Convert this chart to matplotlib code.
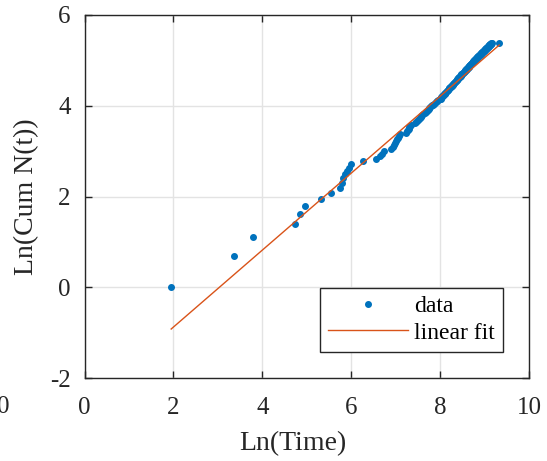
import numpy as np
import matplotlib
matplotlib.use("Agg")
import matplotlib.pyplot as plt

plt.rcParams['font.family'] = ['Liberation Serif', 'DejaVu Serif']
plt.rcParams['mathtext.fontset'] = 'stix'

# Ln(Time) of each event, in order
ln_time = [
    1.95, 3.36, 3.79, 4.74, 4.85, 4.96, 5.32, 5.55, 5.75, 5.79,
    5.82, 5.86, 5.90, 5.94, 5.99, 6.26, 6.56, 6.65, 6.70, 6.74,
    6.90, 6.93, 6.96, 6.98, 7.00, 7.03, 7.05, 7.07, 7.10, 7.23,
    7.25, 7.27, 7.29, 7.31, 7.33, 7.35, 7.44, 7.46, 7.48, 7.50,
    7.52, 7.54, 7.56, 7.58, 7.60, 7.62, 7.66, 7.68, 7.70, 7.72,
    7.74, 7.76, 7.78, 7.80, 7.82, 7.84, 7.86, 7.88, 7.90, 7.92,
    7.94, 7.96, 7.99, 8.01, 8.02, 8.03, 8.05, 8.06, 8.07, 8.09,
    8.10, 8.11, 8.12, 8.14, 8.15, 8.16, 8.17, 8.18, 8.19, 8.20,
    8.21, 8.23, 8.24, 8.25, 8.26, 8.27, 8.28, 8.29, 8.30, 8.31,
    8.32, 8.33, 8.34, 8.35, 8.36, 8.37, 8.38, 8.39, 8.40, 8.40,
    8.41, 8.42, 8.43, 8.44, 8.45, 8.46, 8.47, 8.48, 8.48, 8.49,
    8.50, 8.51, 8.52, 8.53, 8.54, 8.54, 8.55, 8.56, 8.57, 8.58,
    8.58, 8.59, 8.60, 8.61, 8.61, 8.62, 8.63, 8.64, 8.64, 8.65,
    8.66, 8.66, 8.67, 8.68, 8.68, 8.69, 8.70, 8.70, 8.71, 8.72,
    8.72, 8.73, 8.74, 8.74, 8.75, 8.76, 8.76, 8.77, 8.77, 8.78,
    8.79, 8.79, 8.80, 8.80, 8.81, 8.82, 8.82, 8.83, 8.84, 8.84,
    8.85, 8.86, 8.86, 8.87, 8.88, 8.88, 8.89, 8.89, 8.90, 8.91,
    8.91, 8.92, 8.92, 8.93, 8.94, 8.94, 8.95, 8.95, 8.96, 8.97,
    8.97, 8.98, 8.98, 8.99, 8.99, 9.00, 9.00, 9.01, 9.02, 9.02,
    9.03, 9.03, 9.04, 9.04, 9.05, 9.05, 9.06, 9.06, 9.07, 9.07,
    9.08, 9.08, 9.09, 9.09, 9.10, 9.10, 9.11, 9.11, 9.12, 9.12,
    9.13, 9.13, 9.14, 9.14, 9.15, 9.15, 9.16, 9.33,
]
# cumulative event count 1..N -> Ln(Cum N(t))
cum_n = np.arange(1, len(ln_time) + 1)
ln_cum = np.log(cum_n)

# linear fit coefficients
fit_slope = 0.848
fit_intercept = -2.574

x_ticks = [0, 2, 4, 6, 8, 10]
y_ticks = [-2, 0, 2, 4, 6]

W, H = 547, 461
L, R, T, B = 84.5, 529, 15, 378
fig = plt.figure(figsize=(W / 100, H / 100), dpi=100)
ax = fig.add_axes([L / W, 1 - B / H, (R - L) / W, (B - T) / H])

x = np.array(ln_time)
ax.plot(x, ln_cum, '.', color='#0072BD', markersize=8, label='data', zorder=3)
xf = np.array([x.min(), x.max()])
ax.plot(xf, fit_slope * xf + fit_intercept, '-', color='#D95319', linewidth=1.0,
        label='linear fit', zorder=4)

ax.set_xlim(0, 10)
ax.set_ylim(-2, 6)
ax.set_xticks(x_ticks)
ax.set_yticks(y_ticks)
ax.set_xticklabels([str(v) for v in x_ticks])
ax.set_yticklabels([str(v) for v in y_ticks])
ax.grid(True, color='#e3e3e3', linewidth=1.0)
ax.set_axisbelow(True)
ax.tick_params(direction='in', top=True, right=True, length=5, width=1.0,
               labelsize=18, colors='#262626')
ax.tick_params(axis='x', pad=14)
ax.tick_params(axis='y', pad=10)
for s in ax.spines.values():
    s.set_color('#262626')
    s.set_linewidth(1.0)

ax.set_xlabel('Ln(Time)', fontsize=20, color='#262626')
ax.set_ylabel('Ln(Cum N(t))', fontsize=20, color='#262626')
ax.xaxis.set_label_coords((292.5 - L) / (R - L), -(431 - B) / (B - T))
ax.yaxis.set_label_coords(-(L - 39) / (R - L), 0.5)

leg = ax.legend(loc='lower right', fontsize=17, frameon=True, fancybox=False,
                edgecolor='#262626', framealpha=1, borderpad=0.35,
                handlelength=3.4, handletextpad=0.25, labelspacing=0.2,
                borderaxespad=0,
                bbox_to_anchor=((503 - L) / (R - L), (B - 352) / (B - T)))
leg.get_frame().set_linewidth(1.0)
for t in leg.get_texts():
    t.set_color('black')

# stray tick label at far left of the original figure
fig.text(3 / W, 1 - 407 / H, '0', fontsize=18, color='#262626', ha='center', va='center')

fig.savefig('out.png', dpi=100)
